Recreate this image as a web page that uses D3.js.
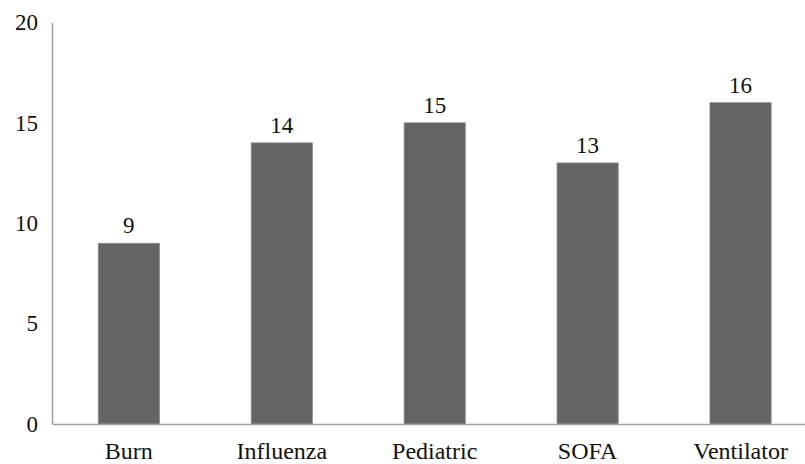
<!DOCTYPE html>
<html><head><meta charset="utf-8">
<script src="https://cdn.jsdelivr.net/npm/d3@7"></script>
<style>body{margin:0;background:#fff}svg{display:block}</style>
</head><body>
<script>
const categories = ["Burn","Influenza","Pediatric","SOFA","Ventilator"];
const values = [9,14,15,13,16];
const yTicks = [0,5,10,15,20];

const W = 805, H = 464;
const svg = d3.select("body").append("svg").attr("width",W).attr("height",H);
const font = "'Liberation Serif', 'Times New Roman', serif";
const fs = 23;

const x = d3.scaleBand().domain(categories).range([52.4, 817]).paddingInner(0.6).paddingOuter(0.3);
const y = d3.scaleLinear().domain([0,20]).range([424, 22.4]);

svg.selectAll("rect.bar").data(values).enter().append("rect")
  .attr("class","bar")
  .attr("x",(d,i)=>x(categories[i]))
  .attr("y",d=>y(d))
  .attr("width",x.bandwidth())
  .attr("height",d=>y(0)-y(d))
  .attr("fill","#646464")
  .attr("stroke","#8a8a8a").attr("stroke-width",0.8);

// y axis
const yAxis = svg.append("g").attr("transform","translate(52,0)")
  .call(d3.axisLeft(y).tickValues(yTicks).tickSize(0).tickPadding(14));
yAxis.attr("font-family",null);
yAxis.select(".domain").attr("stroke","#a0a0a0").attr("stroke-width",1.5);
yAxis.selectAll("text").style("font-family",font).style("font-size",fs+"px").attr("fill","#111");

// x axis
const xAxis = svg.append("g").attr("transform","translate(0,424)")
  .call(d3.axisBottom(x).tickSize(0).tickPadding(18));
xAxis.attr("font-family",null);
xAxis.select(".domain").attr("stroke","#a0a0a0").attr("stroke-width",1.5);
xAxis.selectAll("text").style("font-family",font).style("font-size","24px").attr("fill","#111");

// value labels
svg.selectAll("text.val").data(values).enter().append("text")
  .attr("class","val")
  .attr("x",(d,i)=>x(categories[i])+x.bandwidth()/2)
  .attr("y",d=>y(d)-10)
  .attr("text-anchor","middle")
  .style("font-family",font).style("font-size",fs+"px").attr("fill","#111")
  .text(d=>d);
</script>
</body></html>
